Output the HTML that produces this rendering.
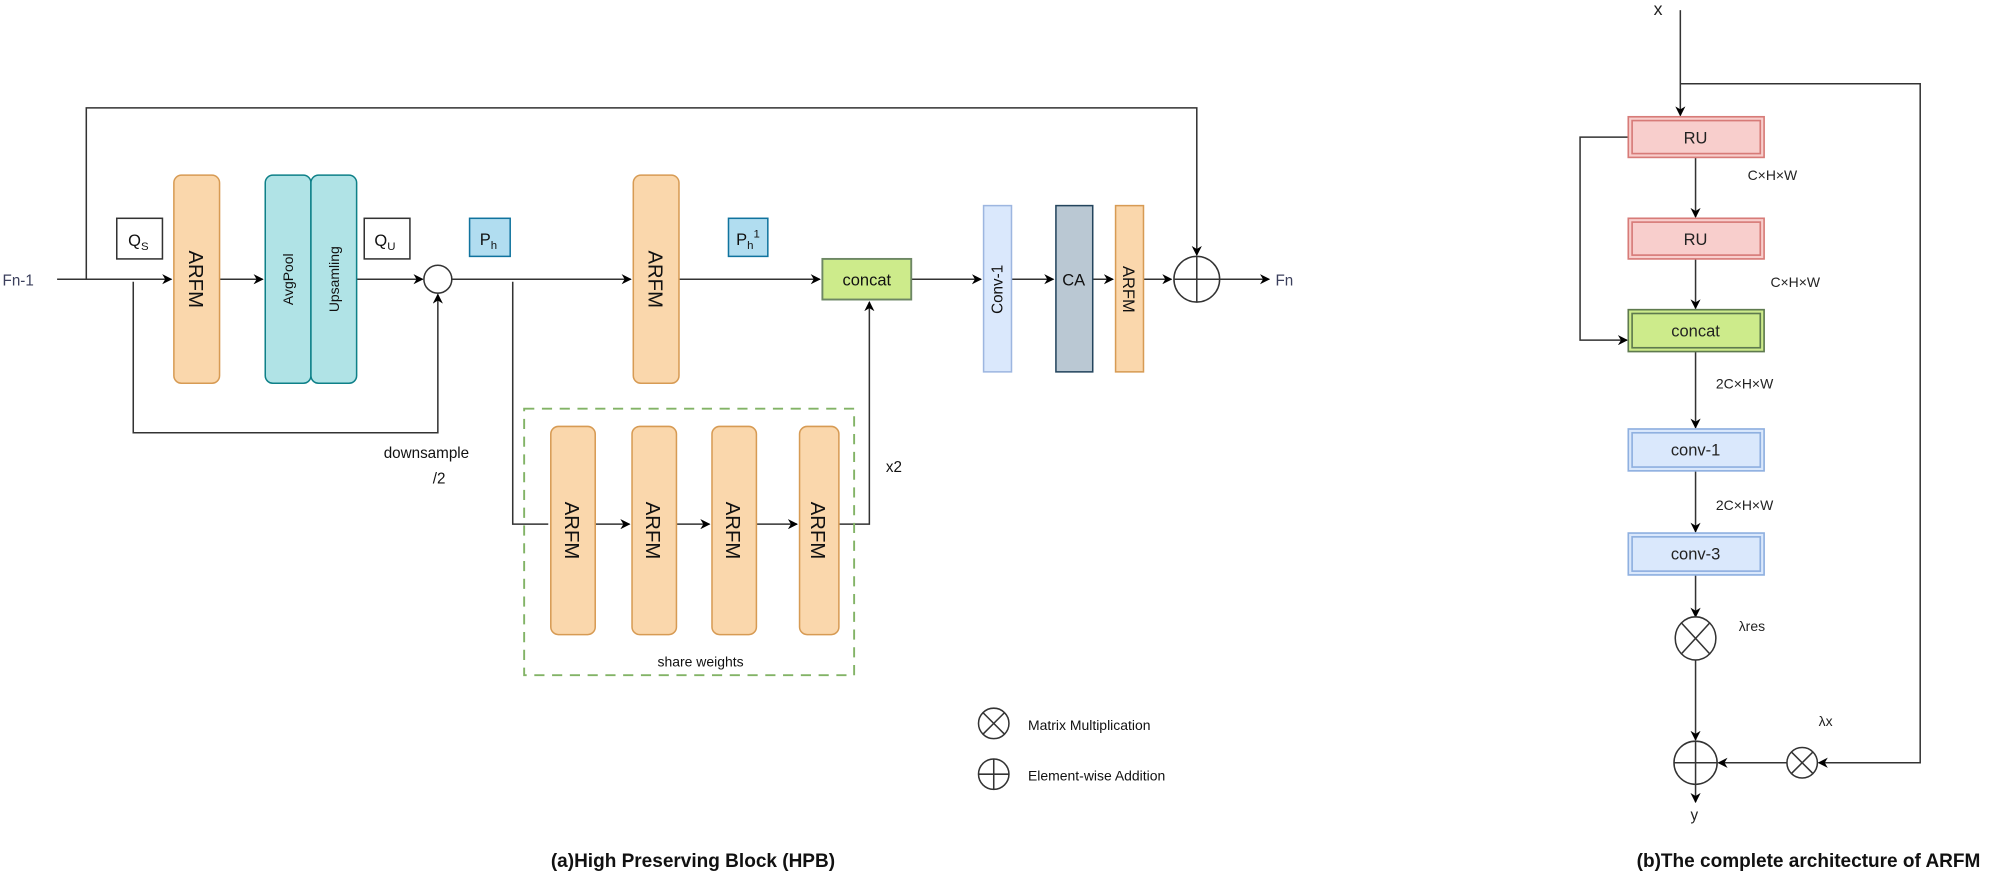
<!DOCTYPE html>
<html><head><meta charset="utf-8"><style>
html,body{margin:0;padding:0;background:#fff;}
svg{display:block;}
text{font-family:"Liberation Sans",Arial,sans-serif;}
</style></head><body>
<svg width="1990" height="877" viewBox="0 0 1568 691" xmlns="http://www.w3.org/2000/svg">
<defs>
<marker id="a" viewBox="0 0 10 10" refX="9" refY="5" markerWidth="8" markerHeight="8" orient="auto-start-reverse" markerUnits="userSpaceOnUse"><path d="M0,0 L10,5 L0,10 L3,5 z" fill="#000"/></marker>
</defs>
<rect width="1568" height="691" fill="#fff"/>
<g stroke="#333" stroke-width="1.2" fill="none">
<line x1="45" y1="220" x2="135" y2="220" marker-end="url(#a)"/>
<polyline points="68,220 68,85 943,85 943,201" marker-end="url(#a)"/>
<line x1="173" y1="220" x2="207" y2="220" marker-end="url(#a)"/>
<line x1="281" y1="220" x2="333" y2="220" marker-end="url(#a)"/>
<polyline points="105,222 105,341 345,341 345,232" marker-end="url(#a)"/>
<line x1="356" y1="220" x2="497" y2="220" marker-end="url(#a)"/>
<line x1="535" y1="220" x2="646" y2="220" marker-end="url(#a)"/>
<polyline points="404,222 404,413 432,413"/>
<line x1="469" y1="413" x2="496" y2="413" marker-end="url(#a)"/>
<line x1="533" y1="413" x2="559" y2="413" marker-end="url(#a)"/>
<line x1="596" y1="413" x2="628" y2="413" marker-end="url(#a)"/>
<polyline points="661,413 685,413 685,238" marker-end="url(#a)"/>
<line x1="718" y1="220" x2="773" y2="220" marker-end="url(#a)"/>
<line x1="797" y1="220" x2="830" y2="220" marker-end="url(#a)"/>
<line x1="861" y1="220" x2="877" y2="220" marker-end="url(#a)"/>
<line x1="901" y1="220" x2="923" y2="220" marker-end="url(#a)"/>
<line x1="961" y1="220" x2="1000" y2="220" marker-end="url(#a)"/>
<circle cx="345" cy="220" r="11"/>
<circle cx="943" cy="220" r="18"/>
<line x1="925" y1="220" x2="961" y2="220"/><line x1="943" y1="202" x2="943" y2="238"/>
</g>
<g stroke="#d79b54" stroke-width="1.2" fill="#fad7ac">
<rect x="137" y="138" width="36" height="164" rx="6"/>
<rect x="499" y="138" width="36" height="164" rx="6"/>
<rect x="434" y="336" width="35" height="164" rx="6"/>
<rect x="498" y="336" width="35" height="164" rx="6"/>
<rect x="561" y="336" width="35" height="164" rx="6"/>
<rect x="630" y="336" width="31" height="164" rx="6"/>
<rect x="879" y="162" width="22" height="131"/>
</g>
<g stroke="#0e8088" stroke-width="1.2" fill="#b0e3e6">
<rect x="209" y="138" width="36" height="164" rx="6"/>
<rect x="245" y="138" width="36" height="164" rx="6"/>
</g>
<rect x="92" y="172" width="36" height="32" fill="#fff" stroke="#333" stroke-width="1.2"/>
<rect x="287" y="172" width="36" height="32" fill="#fff" stroke="#333" stroke-width="1.2"/>
<rect x="370" y="172" width="32" height="30" fill="#b1ddf0" stroke="#10739e" stroke-width="1.2"/>
<rect x="574" y="172" width="31" height="30" fill="#b1ddf0" stroke="#10739e" stroke-width="1.2"/>
<rect x="648" y="204" width="70" height="32" fill="#cdeb8b" stroke="#6d8764" stroke-width="1.5"/>
<rect x="775" y="162" width="22" height="131" fill="#dae8fc" stroke="#9db6e0" stroke-width="1.2"/>
<rect x="832" y="162" width="29" height="131" fill="#bac8d3" stroke="#23445d" stroke-width="1.2"/>
<rect x="413" y="322" width="260" height="210" fill="none" stroke="#82b366" stroke-width="1.5" stroke-dasharray="8,6"/>
<g font-size="16" fill="#111" text-anchor="middle">
<text transform="translate(155,220) rotate(90)" dy="6">ARFM</text>
<text transform="translate(517,220) rotate(90)" dy="6">ARFM</text>
<text transform="translate(451,418) rotate(90)" dy="6">ARFM</text>
<text transform="translate(515,418) rotate(90)" dy="6">ARFM</text>
<text transform="translate(578,418) rotate(90)" dy="6">ARFM</text>
<text transform="translate(645,418) rotate(90)" dy="6">ARFM</text>
<text transform="translate(890,228) rotate(90)" dy="5" font-size="13">ARFM</text>
<text transform="translate(227,220) rotate(-90)" dy="4" font-size="11">AvgPool</text>
<text transform="translate(263,220) rotate(-90)" dy="4" font-size="11">Upsamling</text>
<text transform="translate(786,228) rotate(-90)" dy="4" font-size="12">Conv-1</text>
<text x="846" y="225" font-size="13">CA</text>
<text x="683" y="225" font-size="13">concat</text>
</g>
<g fill="#111" font-size="13">
<text x="101" y="194">Q<tspan font-size="9" dy="3">S</tspan></text>
<text x="295" y="194">Q<tspan font-size="9" dy="3">U</tspan></text>
<text x="378" y="193">P<tspan font-size="9" dy="3">h</tspan></text>
<text x="580" y="193">P<tspan font-size="9" dy="3">h</tspan><tspan font-size="9" dy="-9">1</tspan></text>
<text x="2" y="225" font-size="12" fill="#3b3f5c">Fn-1</text>
<text x="1005" y="225" font-size="12" fill="#3b3f5c">Fn</text>
<text x="698" y="372" font-size="12">x2</text>
<text x="552" y="525" font-size="11" text-anchor="middle">share weights</text>
<text x="336" y="361" font-size="12" text-anchor="middle">downsample</text>
<text x="346" y="381" font-size="12" text-anchor="middle">/2</text>
<text x="810" y="575" font-size="11">Matrix Multiplication</text>
<text x="810" y="615" font-size="11">Element-wise Addition</text>
</g>
<g stroke="#333" stroke-width="1.2" fill="none">
<circle cx="783" cy="570" r="12"/><line x1="774.5" y1="561.5" x2="791.5" y2="578.5"/><line x1="791.5" y1="561.5" x2="774.5" y2="578.5"/>
<circle cx="783" cy="610" r="12"/><line x1="771" y1="610" x2="795" y2="610"/><line x1="783" y1="598" x2="783" y2="622"/>
</g>
<text x="546" y="683" font-size="15" font-weight="bold" text-anchor="middle" fill="#111">(a)High Preserving Block (HPB)</text>
<text x="1425" y="683" font-size="15" font-weight="bold" text-anchor="middle" fill="#111">(b)The complete architecture of ARFM</text>
<g stroke="#333" stroke-width="1.2" fill="none">
<line x1="1324" y1="8" x2="1324" y2="91" marker-end="url(#a)"/>
<polyline points="1324,66 1513,66 1513,601 1433,601" marker-end="url(#a)"/>
<line x1="1408" y1="601" x2="1354" y2="601" marker-end="url(#a)"/>
<polyline points="1283,108 1245,108 1245,268 1282,268" marker-end="url(#a)"/>
<line x1="1336" y1="124" x2="1336" y2="171" marker-end="url(#a)"/>
<line x1="1336" y1="204" x2="1336" y2="243" marker-end="url(#a)"/>
<line x1="1336" y1="277" x2="1336" y2="337" marker-end="url(#a)"/>
<line x1="1336" y1="371" x2="1336" y2="419" marker-end="url(#a)"/>
<line x1="1336" y1="453" x2="1336" y2="486" marker-end="url(#a)"/>
<line x1="1336" y1="520" x2="1336" y2="583" marker-end="url(#a)"/>
<line x1="1336" y1="618" x2="1336" y2="632" marker-end="url(#a)"/>
<ellipse cx="1336" cy="503" rx="16" ry="17"/>
<line x1="1325" y1="491" x2="1347" y2="515"/><line x1="1347" y1="491" x2="1325" y2="515"/>
<circle cx="1420" cy="601" r="12"/>
<line x1="1411.5" y1="592.5" x2="1428.5" y2="609.5"/><line x1="1428.5" y1="592.5" x2="1411.5" y2="609.5"/>
<circle cx="1336" cy="601" r="17"/>
<line x1="1319" y1="601" x2="1353" y2="601"/><line x1="1336" y1="584" x2="1336" y2="618"/>
</g>
<g stroke-width="1.3">
<rect x="1283" y="92" width="107" height="32" fill="#f8cecc" stroke="#d77b78"/>
<rect x="1286" y="95" width="101" height="26" fill="none" stroke="#d77b78"/>
<rect x="1283" y="172" width="107" height="32" fill="#f8cecc" stroke="#d77b78"/>
<rect x="1286" y="175" width="101" height="26" fill="none" stroke="#d77b78"/>
<rect x="1283" y="244" width="107" height="33" fill="#cdeb8b" stroke="#5e7a4e"/>
<rect x="1286" y="247" width="101" height="27" fill="none" stroke="#5e7a4e"/>
<rect x="1283" y="338" width="107" height="33" fill="#dae8fc" stroke="#8fb0e0"/>
<rect x="1286" y="341" width="101" height="27" fill="none" stroke="#8fb0e0"/>
<rect x="1283" y="420" width="107" height="33" fill="#dae8fc" stroke="#8fb0e0"/>
<rect x="1286" y="423" width="101" height="27" fill="none" stroke="#8fb0e0"/>
</g>
<g font-size="13" fill="#222" text-anchor="middle">
<text x="1336" y="113">RU</text>
<text x="1336" y="193">RU</text>
<text x="1336" y="265">concat</text>
<text x="1336" y="359">conv-1</text>
<text x="1336" y="441">conv-3</text>
</g>
<g font-size="11" fill="#222">
<text x="1377" y="142">C×H×W</text>
<text x="1395" y="226">C×H×W</text>
<text x="1352" y="306">2C×H×W</text>
<text x="1352" y="402">2C×H×W</text>
<text x="1370" y="497">λres</text>
<text x="1433" y="572">λx</text>
<text x="1303" y="12" font-size="14">x</text>
<text x="1332" y="646" font-size="12">y</text>
</g>
</svg>
</body></html>
